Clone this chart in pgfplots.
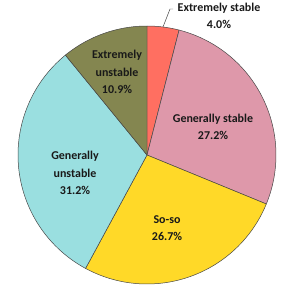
\documentclass[border=0pt]{standalone}
\usepackage{pgfplots}
\pgfplotsset{compat=1.18}
\usepackage{fontspec}
\setmainfont{Carlito}
\definecolor{cES}{RGB}{255,111,97}
\definecolor{cGS}{RGB}{222,152,170}
\definecolor{cSO}{RGB}{255,217,40}
\definecolor{cGU}{RGB}{154,223,224}
\definecolor{cEU}{RGB}{132,134,80}
\definecolor{edge}{RGB}{70,70,70}
% shares in percent
\def\pES{4.0}
\def\pGS{27.2}
\def\pSO{26.7}
\def\pGU{31.2}
\def\pEU{10.9}
\pgfmathsetmacro\aA{90}
\pgfmathsetmacro\aB{\aA-3.6*\pES}
\pgfmathsetmacro\aC{\aB-3.6*\pGS}
\pgfmathsetmacro\aD{\aC-3.6*\pSO}
\pgfmathsetmacro\aE{\aD-3.6*\pGU}
\pgfmathsetmacro\aF{\aE-3.6*\pEU}
\begin{document}
\begin{tikzpicture}[lbl/.style={font=\bfseries\fontsize{12}{17.5}\selectfont, align=center, text=black!90, inner sep=0pt}]
\begin{axis}[
  x=1bp, y=1bp,
  xmin=-147, xmax=153, ymin=-134, ymax=155,
  axis line style={draw=none}, ticks=none,
  clip=false, scale only axis,
]
\addplot[fill=cES, draw=edge, line width=0.5pt, domain=\aB:\aA, samples=20, variable=\t] ({129*cos(\t)},{129*sin(\t)}) -- (axis cs:0,0) -- cycle;
\addplot[fill=cGS, draw=edge, line width=0.5pt, domain=\aC:\aB, samples=60, variable=\t] ({129*cos(\t)},{129*sin(\t)}) -- (axis cs:0,0) -- cycle;
\addplot[fill=cSO, draw=edge, line width=0.5pt, domain=\aD:\aC, samples=60, variable=\t] ({129*cos(\t)},{129*sin(\t)}) -- (axis cs:0,0) -- cycle;
\addplot[fill=cGU, draw=edge, line width=0.5pt, domain=\aE:\aD, samples=60, variable=\t] ({129*cos(\t)},{129*sin(\t)}) -- (axis cs:0,0) -- cycle;
\addplot[fill=cEU, draw=edge, line width=0.5pt, domain=\aF:\aE, samples=30, variable=\t] ({129*cos(\t)},{129*sin(\t)}) -- (axis cs:0,0) -- cycle;
\draw[edge, line width=0.5pt] (axis cs:16,128) -- (axis cs:23,146) -- (axis cs:26,146);
\node[lbl] at (axis cs:72,139) {Extremely stable\\4.0\%};
\node[lbl] at (axis cs:66,28) {Generally stable\\27.2\%};
\node[lbl] at (axis cs:20,-73) {So-so\\26.7\%};
\node[lbl] at (axis cs:-72,-18) {Generally\\unstable\\31.2\%};
\node[lbl] at (axis cs:-30,83) {Extremely\\unstable\\10.9\%};
\end{axis}
\end{tikzpicture}
\end{document}
